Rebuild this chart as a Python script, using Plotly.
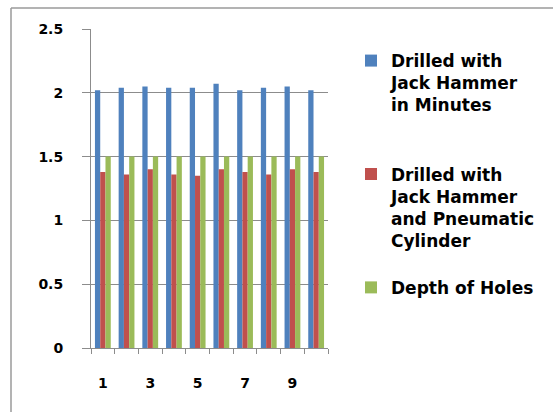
import plotly.graph_objects as go

categories = [1, 2, 3, 4, 5, 6, 7, 8, 9, 10]
jack_hammer = [2.02, 2.04, 2.05, 2.04, 2.04, 2.07, 2.02, 2.04, 2.05, 2.02]
jack_pneumatic = [1.38, 1.36, 1.40, 1.36, 1.35, 1.40, 1.38, 1.36, 1.40, 1.38]
depth_of_holes = [1.5, 1.5, 1.5, 1.5, 1.5, 1.5, 1.5, 1.5, 1.5, 1.5]
x_tick_vals = [1, 3, 5, 7, 9]
y_tick_vals = [0, 0.5, 1, 1.5, 2, 2.5]
y_tick_text = ["0", "0.5", "1", "1.5", "2", "2.5"]

names = [
    "Drilled with<br>Jack Hammer<br>in Minutes<br> ",
    "Drilled with<br>Jack Hammer<br>and Pneumatic<br>Cylinder",
    "Depth of Holes",
]
colors = ["#4F81BD", "#C0504D", "#9BBB59"]
series = [jack_hammer, jack_pneumatic, depth_of_holes]

fig = go.Figure()
for i, (nm, col, vals) in enumerate(zip(names, colors, series)):
    fig.add_trace(go.Bar(x=categories, y=vals, name=nm, marker_color=col,
                         marker_line_width=0, legendgroup=f"g{i}"))

FONT = "DejaVu Sans"
PX_W, PX_H = 237, 319  # plot area size in px
fig.update_layout(
    width=553, height=412,
    margin=dict(l=91, r=225, t=29, b=64),
    paper_bgcolor="white", plot_bgcolor="white",
    barmode="group", bargap=0.333, bargroupgap=0,
    font=dict(family=FONT, size=14, color="black", weight="bold"),
    showlegend=True,
    legend=dict(x=1.097, xanchor="left", y=0.956, yanchor="top",
                valign="top", tracegroupgap=22, itemwidth=30,
                font=dict(family=FONT, size=17, color="black", weight="bold"),
                bgcolor="rgba(0,0,0,0)", traceorder="grouped"),
    xaxis=dict(range=[0.5, 10.5], tickmode="array", tickvals=x_tick_vals,
               ticks="", showgrid=False, zeroline=False,
               showline=True, linecolor="#8c8c8c", linewidth=1,
               ticklabelstandoff=22,
               tickfont=dict(family=FONT, size=14, color="black", weight="bold"),
               minor=dict(tickmode="linear", tick0=0.5, dtick=1, ticks="outside",
                          ticklen=5, tickcolor="#8c8c8c", tickwidth=1, showgrid=False)),
    yaxis=dict(range=[0, 2.5], tickmode="array", tickvals=y_tick_vals,
               ticktext=y_tick_text, ticks="outside", ticklen=8,
               tickcolor="#8c8c8c", tickwidth=1,
               showgrid=True, gridcolor="#8c8c8c", gridwidth=1,
               zeroline=False, showline=True, linecolor="#8c8c8c", linewidth=1,
               ticklabelstandoff=16,
               tickfont=dict(family=FONT, size=14, color="black", weight="bold")),
    shapes=[
        dict(type="line", xref="paper", yref="paper",
             x0=(11 - 91) / PX_W, x1=(553 - 91) / PX_W,
             y0=(348 - 8) / PX_H, y1=(348 - 8) / PX_H,
             line=dict(color="#9a9a9a", width=1.5)),
        dict(type="line", xref="paper", yref="paper",
             x0=(11 - 91) / PX_W, x1=(11 - 91) / PX_W,
             y0=(348 - 412) / PX_H, y1=(348 - 8) / PX_H,
             line=dict(color="#9a9a9a", width=1.5)),
    ],
)

fig.write_html("out.html", config={"displayModeBar": False},
               post_script="document.body.style.margin='0';document.body.style.padding='0';")
